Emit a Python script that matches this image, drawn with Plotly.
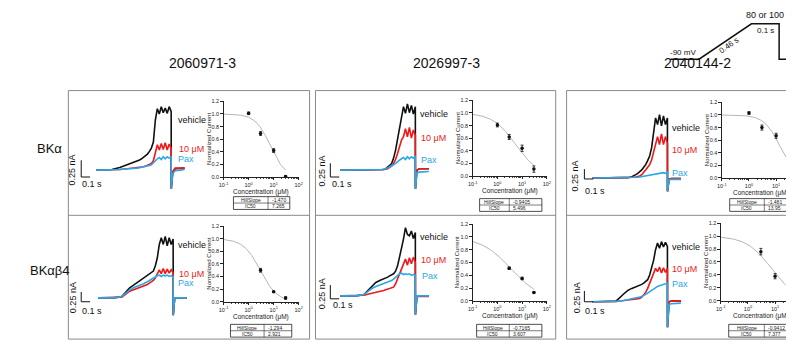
import numpy as np
import plotly.graph_objects as go

W, H = 794, 347
OFF = 8                      # page body margin of the browser
PW, PH = W - OFF, H - OFF    # figure size so the page fits the window
def fx(p): return (p - OFF) / PW
def fy(p): return 1 - (p - OFF) / PH

# ---------------- data ----------------
columns = ["2060971-3", "2026997-3", "2040144-2"]
rows = ["BKα", "BKαβ4"]

# time grid (s) for the current traces
T = [0, 0.1, 0.2, 0.3, 0.4, 0.45, 0.5, 0.525, 0.55, 0.575, 0.6, 0.625, 0.65, 0.675,
     0.7, 0.725, 0.75, 0.775, 0.8, 0.825, 0.85, 0.875, 0.9, 0.925, 0.95, 0.951,
     0.97, 1.0, 1.06, 1.12]

# currents (nA), panels ordered row by row
vehicle = [
    [0, 0, 0.01, 0.04, 0.08, 0.10, 0.12, 0.13, 0.15, 0.17, 0.19, 0.21, 0.24, 0.28, 0.33, 0.42, 0.75, 0.92, 0.84, 0.95, 0.86, 0.93, 0.85, 0.95, 0.88, -0.28, -0.03, 0.02, 0.02, 0.03],
    [0, 0, 0, 0, 0, 0, 0.005, 0.01, 0.01, 0.02, 0.04, 0.07, 0.10, 0.18, 0.30, 0.45, 0.60, 0.75, 0.95, 0.85, 0.99, 0.86, 0.97, 0.84, 0.95, -0.28, 0.0, 0.02, 0.02, 0.02],
    [0, 0, 0, 0, 0, 0.005, 0.02, 0.03, 0.05, 0.07, 0.09, 0.12, 0.16, 0.20, 0.26, 0.33, 0.45, 0.65, 0.90, 0.80, 0.95, 0.78, 0.93, 0.80, 0.90, -0.20, -0.02, -0.01, -0.01, -0.01],
    [0, 0, 0, 0.02, 0.15, 0.19, 0.23, 0.25, 0.27, 0.29, 0.31, 0.33, 0.35, 0.37, 0.40, 0.48, 0.60, 0.80, 0.90, 0.80, 0.92, 0.78, 0.90, 0.80, 0.88, -0.26, 0.0, 0.0, 0.0, 0.0],
    [0, 0, 0, 0.02, 0.15, 0.20, 0.23, 0.24, 0.25, 0.27, 0.28, 0.30, 0.31, 0.33, 0.37, 0.45, 0.58, 0.70, 0.85, 1.02, 0.92, 0.90, 0.97, 0.86, 0.95, -0.28, 0.0, 0.0, 0.0, 0.0],
    [0, 0, 0, 0.01, 0.12, 0.17, 0.20, 0.21, 0.22, 0.23, 0.24, 0.26, 0.28, 0.30, 0.33, 0.40, 0.50, 0.62, 0.78, 0.88, 0.80, 0.90, 0.82, 0.89, 0.83, -0.38, 0.0, 0.01, 0.01, 0.01],
]
um10 = [
    [0, 0, 0.005, 0.01, 0.02, 0.025, 0.03, 0.035, 0.04, 0.045, 0.05, 0.06, 0.07, 0.08, 0.10, 0.14, 0.25, 0.38, 0.30, 0.40, 0.31, 0.41, 0.30, 0.39, 0.33, -0.28, -0.02, 0.03, 0.03, 0.03],
    [0, 0, 0, 0, 0, 0, 0, 0.005, 0.01, 0.015, 0.02, 0.04, 0.06, 0.10, 0.16, 0.25, 0.35, 0.45, 0.50, 0.62, 0.50, 0.64, 0.48, 0.60, 0.52, -0.28, 0.0, 0.02, 0.02, 0.02],
    [0, 0, 0, 0, 0, 0, 0.005, 0.01, 0.015, 0.02, 0.03, 0.05, 0.08, 0.12, 0.16, 0.20, 0.27, 0.38, 0.50, 0.62, 0.50, 0.66, 0.50, 0.62, 0.52, -0.20, -0.02, -0.01, -0.01, -0.01],
    [0, 0, 0, 0.01, 0.10, 0.12, 0.15, 0.16, 0.17, 0.18, 0.19, 0.20, 0.22, 0.24, 0.26, 0.30, 0.36, 0.42, 0.36, 0.44, 0.36, 0.43, 0.37, 0.42, 0.38, -0.26, 0.0, 0.0, 0.0, 0.0],
    [0, 0, 0, 0.01, 0.04, 0.05, 0.06, 0.07, 0.08, 0.09, 0.10, 0.10, 0.11, 0.13, 0.18, 0.25, 0.33, 0.40, 0.47, 0.55, 0.46, 0.57, 0.48, 0.58, 0.50, -0.28, -0.01, -0.01, -0.01, -0.01],
    [0, 0, 0, 0.005, 0.02, 0.025, 0.03, 0.035, 0.04, 0.045, 0.05, 0.07, 0.10, 0.14, 0.20, 0.28, 0.36, 0.44, 0.50, 0.45, 0.52, 0.43, 0.51, 0.44, 0.50, -0.38, 0.0, 0.01, 0.01, 0.01],
]
pax = [
    [0, 0, 0.005, 0.01, 0.02, 0.02, 0.03, 0.03, 0.035, 0.04, 0.045, 0.05, 0.06, 0.07, 0.08, 0.11, 0.15, 0.17, 0.19, 0.16, 0.20, 0.17, 0.20, 0.18, 0.20, -0.28, -0.05, -0.01, 0.0, 0.01],
    [0, 0, 0, 0, 0, 0, 0.005, 0.01, 0.015, 0.02, 0.03, 0.05, 0.06, 0.08, 0.10, 0.13, 0.15, 0.17, 0.19, 0.16, 0.20, 0.17, 0.20, 0.18, 0.21, -0.28, -0.04, -0.03, -0.02, -0.02],
    [0, 0, 0, 0, 0, 0, 0, 0, 0.005, 0.01, 0.015, 0.02, 0.025, 0.03, 0.035, 0.04, 0.045, 0.05, 0.055, 0.06, 0.065, 0.07, 0.08, 0.07, 0.085, -0.20, -0.03, -0.02, -0.02, -0.02],
    [0, 0, 0, 0.02, 0.12, 0.15, 0.18, 0.19, 0.20, 0.21, 0.22, 0.24, 0.26, 0.28, 0.29, 0.31, 0.33, 0.34, 0.32, 0.34, 0.33, 0.34, 0.32, 0.33, 0.32, -0.26, 0.0, 0.0, 0.0, 0.0],
    [0, 0, 0, 0.02, 0.11, 0.14, 0.16, 0.17, 0.18, 0.19, 0.20, 0.21, 0.23, 0.25, 0.28, 0.31, 0.33, 0.34, 0.32, 0.33, 0.32, 0.33, 0.31, 0.32, 0.31, -0.28, 0.0, 0.0, 0.0, 0.0],
    [0, 0, 0, 0.005, 0.02, 0.03, 0.04, 0.05, 0.055, 0.06, 0.07, 0.08, 0.09, 0.11, 0.13, 0.15, 0.18, 0.20, 0.22, 0.23, 0.24, 0.25, 0.26, 0.27, 0.28, -0.38, -0.04, -0.03, -0.02, -0.02],
]

# concentration-response data
conc = [[1, 3, 10, 30], [1, 3, 10, 30], [1, 3, 10, 30], [3, 10, 30], [3, 10, 30], [3, 10, 30]]
norm = [[1.01, 0.69, 0.42, 0.01], [0.81, 0.62, 0.44, 0.11], [1.03, 0.80, 0.67, 0.20],
        [0.50, 0.16, 0.06], [0.51, 0.35, 0.13], [0.76, 0.38, 0.30]]
sem = [[0.02, 0.03, 0.03, 0.01], [0.03, 0.04, 0.05, 0.05], [0.02, 0.04, 0.04, 0.04],
       [0.03, 0.01, 0.02], [0.02, 0.02, 0.01], [0.05, 0.04, 0.06]]
hill = [-1.470, -0.9405, -1.481, -1.294, -0.7165, -0.9412]
ic50 = [7.265, 5.496, 13.95, 2.921, 3.607, 7.377]
hill_txt = ["-1.470", "-0.9405", "-1.481", "-1.294", "-0.7165", "-0.9412"]
ic50_txt = ["7.265", "5.496", "13.95", "2.921", "3.607", "7.377"]

# ---------------- layout geometry (px, window coordinates) ----------------
trace_x0 = [92, 339, 594, 94, 339, 594]
baseline = [170, 170, 178, 300, 298, 304]
dose_x = [(221, 297), (473, 548), (725, 794), (221, 297), (473, 548), (724, 794)]
dose_y = [(100, 177), (99, 176), (101, 178), (227, 304), (225, 303), (224, 303)]
dose_xr = [[-1, 2], [-1, 2], [-1, 1.51], [-1, 2], [-1, 2], [-1, 1.55]]
tables = [(231, 266, 288, 197), (480, 510, 543, 199), (733, 768, 800, 199),
          (228, 262, 290, 327), (477, 510, 543, 327), (732, 768, 800, 327)]
scalebars = [(77, 177, 17), (329, 177, 14), (586, 179, 10), (77, 304, 10), (329, 301, 14), (586, 304, 11)]
nA_pos = [(68, 170), (321, 171), (577, 176), (69, 300), (320, 296), (578, 300)]
s_pos = [(88, 184), (341, 184), (597, 191), (88, 313), (342, 307), (597, 313)]
lab_v = [(173, 119), (418, 113), (673, 127), (173, 246), (418, 238), (673, 248)]
lab_r = [(174, 148), (419, 137), (673, 150), (174, 276), (419, 261), (673, 271)]
lab_p = [(173, 159), (419, 160), (673, 173), (173, 285), (420, 278), (673, 286)]

BLACK, RED, BLUE = "#111111", "#f01818", "#2aa8e6"
FONT = "Liberation Sans, Arial, sans-serif"
PXN = 68.0  # px per nA
PXS = 80.0  # px per s

fig = go.Figure()
layout = dict(width=PW, height=PH, margin=dict(l=0, r=0, t=0, b=0),
              paper_bgcolor="white", plot_bgcolor="rgba(0,0,0,0)", showlegend=False,
              font=dict(family=FONT, color="#111"))
shapes, ann = [], []

minor_vals = [m * 10.0 ** e for e in (-1, 0, 1) for m in range(2, 10)]

def add_text(txt, x, y, size, color="#111", angle=0, xanchor="center"):
    ann.append(dict(text=txt, x=fx(x), y=fy(y), xref="paper", yref="paper", showarrow=False,
                    textangle=angle, font=dict(size=size, color=color, family=FONT),
                    xanchor=xanchor, yanchor="middle"))

for i in range(6):
    ax_t = 2 * i + 1
    ax_d = 2 * i + 2
    # ---- current-trace axes ----
    x0 = trace_x0[i]
    b = baseline[i]
    top, bot = b - 75, b + 28
    layout[f"xaxis{ax_t}"] = dict(domain=[fx(x0), fx(x0 + 1.125 * PXS)], range=[0, 1.125],
                                  visible=False, anchor=f"y{ax_t}")
    layout[f"yaxis{ax_t}"] = dict(domain=[fy(bot), fy(top)], range=[-(28 / PXN), 75 / PXN],
                                  visible=False, anchor=f"x{ax_t}")
    for ser, col in ((vehicle, BLACK), (um10, RED), (pax, BLUE)):
        fig.add_trace(go.Scatter(x=T, y=ser[i], mode="lines", line=dict(color=col, width=1.6),
                                 xaxis=f"x{ax_t}", yaxis=f"y{ax_t}", hoverinfo="skip",
                                 cliponaxis=False))
    # ---- dose-response axes ----
    dx0, dx1 = dose_x[i]
    dy0, dy1 = dose_y[i]
    layout[f"xaxis{ax_d}"] = dict(domain=[fx(dx0), min(1, fx(dx1))], type="log", range=dose_xr[i],
                                  anchor=f"y{ax_d}", showline=True, linecolor="#222", linewidth=0.8,
                                  ticks="outside", ticklen=2.5, tickwidth=0.8, tickcolor="#222",
                                  tickmode="array", tickvals=[0.1, 1, 10, 100],
                                  ticktext=["10<sup>-1</sup>", "10<sup>0</sup>", "10<sup>1</sup>", "10<sup>2</sup>"],
                                  tickfont=dict(size=5.5, color="#222"), showgrid=False, zeroline=False,
                                  minor=dict(tickmode="array", tickvals=minor_vals, ticks="outside",
                                             ticklen=1.5, tickwidth=0.6, tickcolor="#444"))
    layout[f"yaxis{ax_d}"] = dict(domain=[fy(dy1), fy(dy0)], range=[0, 1.2], anchor=f"x{ax_d}",
                                  showline=True, linecolor="#222", linewidth=0.8, ticks="outside",
                                  ticklen=2.5, tickwidth=0.8, tickcolor="#222", tickmode="array",
                                  tickvals=[0, 0.2, 0.4, 0.6, 0.8, 1.0, 1.2],
                                  ticktext=["0.0", "0.2", "0.4", "0.6", "0.8", "1.0", "1.2"],
                                  tickfont=dict(size=5.5, color="#222"), showgrid=False, zeroline=False)
    xc = np.logspace(-1, np.log10(30), 120)
    yc = 1 / (1 + (ic50[i] / xc) ** hill[i])
    fig.add_trace(go.Scatter(x=xc, y=yc, mode="lines", line=dict(color="#b5b5b5", width=1),
                             xaxis=f"x{ax_d}", yaxis=f"y{ax_d}", hoverinfo="skip"))
    fig.add_trace(go.Scatter(x=conc[i], y=norm[i], mode="markers",
                             marker=dict(color="#111", size=3.5),
                             error_y=dict(type="data", array=sem[i], color="#111", thickness=0.8, width=1.5),
                             xaxis=f"x{ax_d}", yaxis=f"y{ax_d}", cliponaxis=False, hoverinfo="skip"))
    add_text("Normalized Current", dx0 - 15, (dy0 + dy1) / 2, 6, "#222", angle=-90)
    add_text("Concentration (μM)", (dx0 + dx1) / 2 if i % 3 != 2 else 765, dy1 + 15.5, 6.5, "#222")
    # ---- parameter table ----
    tx0, tsp, tx1, ty0 = tables[i]
    th = 6.5
    shapes.append(dict(type="rect", xref="paper", yref="paper", x0=fx(tx0), x1=fx(tx1),
                       y0=fy(ty0), y1=fy(ty0 + 2 * th), line=dict(color="#222", width=0.8)))
    shapes.append(dict(type="line", xref="paper", yref="paper", x0=fx(tx0), x1=fx(tx1),
                       y0=fy(ty0 + th), y1=fy(ty0 + th), line=dict(color="#222", width=0.6)))
    shapes.append(dict(type="line", xref="paper", yref="paper", x0=fx(tsp), x1=fx(tsp),
                       y0=fy(ty0), y1=fy(ty0 + 2 * th), line=dict(color="#222", width=0.6)))
    for r, (a, v) in enumerate((("HillSlope", hill_txt[i]), ("IC50", ic50_txt[i]))):
        yy = ty0 + th * r + th / 2
        add_text(a, (tx0 + tsp) / 2, yy, 5, "#222")
        add_text(v, tsp + 2, yy, 5, "#222", xanchor="left")
    # ---- scale bar ----
    sx, sy, sh = scalebars[i]
    shapes.append(dict(type="path", xref="paper", yref="paper",
                       path=f"M {fx(sx)} {fy(sy - sh)} L {fx(sx)} {fy(sy)} L {fx(sx + 9)} {fy(sy)}",
                       line=dict(color="#111", width=1)))
    add_text("0.25 nA", nA_pos[i][0], nA_pos[i][1], 9, angle=-90)
    add_text("0.1 s", s_pos[i][0], s_pos[i][1], 9)
    # ---- trace labels ----
    for (lx, ly), txt, col in ((lab_v[i], "vehicle", BLACK), (lab_r[i], "10 μM", RED), (lab_p[i], "Pax", BLUE)):
        add_text(txt, lx, ly, 9, col, xanchor="left")

# panel boxes
for (bx0, bx1) in [(64, 308), (314, 557), (568, 800)]:
    shapes.append(dict(type="rect", xref="paper", yref="paper", x0=fx(bx0), x1=fx(bx1),
                       y0=fy(342), y1=fy(89), line=dict(color="#8a8a8a", width=1)))
    shapes.append(dict(type="line", xref="paper", yref="paper", x0=fx(bx0), x1=fx(bx1),
                       y0=fy(216), y1=fy(216), line=dict(color="#8a8a8a", width=1)))

# column titles and row labels
for name, cx in zip(columns, [200, 447, 700]):
    add_text(name, cx, 61, 14)
for name, cy in zip(rows, [148, 272]):
    add_text(name, 45, cy, 13)

# voltage protocol
shapes.append(dict(type="path", xref="paper", yref="paper",
                   path=(f"M {fx(673)} {fy(57)} L {fx(702)} {fy(57)} L {fx(755)} {fy(21)} "
                         f"L {fx(783)} {fy(21)} L {fx(783)} {fy(57)} L {fx(800)} {fy(57)}"),
                   line=dict(color="#111", width=1.5)))
add_text("-90 mV", 686, 50, 8)
add_text("0.46 s", 732, 43, 8, angle=-35)
add_text("0.1 s", 769, 28, 8)
add_text("80 or 100 mV", 747, 12, 9, xanchor="left")

layout["shapes"] = shapes
layout["annotations"] = ann
fig.update_layout(**layout)
fig.write_html("out.html")
